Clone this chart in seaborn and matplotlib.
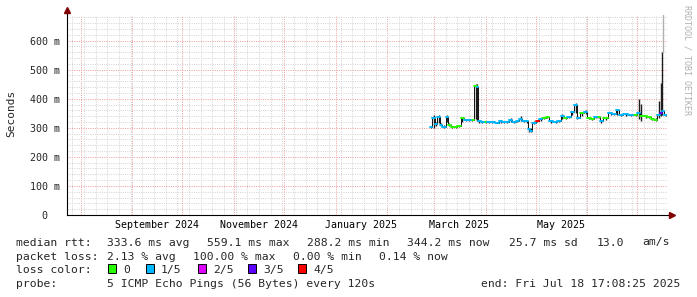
import numpy as np
import pandas as pd
import matplotlib
matplotlib.use("Agg")
import matplotlib.pyplot as plt
import matplotlib.dates as mdates
import matplotlib.transforms as mtransforms
from matplotlib.ticker import MultipleLocator, NullFormatter, FixedLocator
from matplotlib.patches import Rectangle
import seaborn as sns

# ---------------- data ----------------
dates = ["2025-02-27", "2025-03-01", "2025-03-02", "2025-03-04", "2025-03-05", "2025-03-07",
         "2025-03-09", "2025-03-10", "2025-03-12", "2025-03-14", "2025-03-16", "2025-03-18",
         "2025-03-20", "2025-03-22", "2025-03-24", "2025-03-26", "2025-03-27", "2025-03-28",
         "2025-03-30", "2025-04-01", "2025-04-03", "2025-04-05", "2025-04-08", "2025-04-10",
         "2025-04-12", "2025-04-14", "2025-04-16", "2025-04-18", "2025-04-20", "2025-04-22",
         "2025-04-24", "2025-04-26", "2025-04-27", "2025-04-28", "2025-04-30", "2025-05-02",
         "2025-05-04", "2025-05-06", "2025-05-08", "2025-05-10", "2025-05-13", "2025-05-15",
         "2025-05-17", "2025-05-19", "2025-05-21", "2025-05-23", "2025-05-25", "2025-05-26",
         "2025-05-29", "2025-05-31", "2025-06-02", "2025-06-04", "2025-06-06", "2025-06-08",
         "2025-06-09", "2025-06-12", "2025-06-15", "2025-06-17", "2025-06-19", "2025-06-21",
         "2025-06-24", "2025-06-27", "2025-06-30", "2025-07-02", "2025-07-03", "2025-07-06",
         "2025-07-08", "2025-07-10", "2025-07-12", "2025-07-14", "2025-07-15", "2025-07-16",
         "2025-07-18"]
median_ms = [301, 334, 314, 338, 310, 303,
             338, 310, 302, 302, 305, 334,
             327, 326, 327, 445, 440, 322,
             320, 321, 320, 319, 318, 322,
             320, 320, 326, 320, 323, 330,
             323, 322, 296, 290, 318, 323,
             330, 333, 336, 322, 320, 323,
             342, 333, 336, 353, 378, 335,
             350, 356, 333, 330, 338, 337,
             322, 333, 352, 348, 360, 345,
             346, 345, 343, 350, 340, 339,
             336, 330, 328, 345, 350, 358,
             344]
smoke_lo = [298, 300, 305, 315, 305, 300,
            320, 305, 300, 300, 302, 320,
            324, 323, 323, 330, 325, 318,
            317, 318, 317, 316, 315, 318,
            317, 317, 320, 317, 320, 322,
            320, 318, 287, 286, 312, 320,
            325, 329, 332, 318, 317, 320,
            330, 329, 332, 345, 350, 330,
            342, 348, 329, 326, 333, 333,
            318, 328, 345, 343, 345, 341,
            342, 341, 339, 330, 325, 334,
            332, 326, 324, 335, 340, 345,
            340]
smoke_hi = [306, 345, 320, 345, 315, 308,
            345, 315, 305, 305, 308, 338,
            330, 329, 330, 452, 450, 326,
            323, 324, 323, 322, 321, 326,
            323, 323, 333, 323, 326, 339,
            326, 326, 300, 300, 322, 326,
            334, 336, 340, 326, 323, 327,
            348, 337, 340, 358, 386, 340,
            355, 360, 337, 334, 342, 341,
            326, 337, 356, 352, 366, 349,
            350, 349, 347, 399, 382, 343,
            340, 334, 332, 391, 455, 559,
            348]
loss = [1, 1, 1, 1, 1, 1,
        1, 0, 0, 0, 0, 0,
        1, 1, 0, 0, 1, 1,
        1, 0, 1, 1, 1, 1,
        1, 1, 1, 1, 1, 1,
        1, 1, 1, 1, 1, 4,
        1, 0, 0, 1, 1, 1,
        1, 0, 1, 1, 1, 1,
        0, 1, 0, 0, 1, 0,
        1, 0, 1, 1, 1, 1,
        1, 1, 0, 1, 0, 0,
        0, 0, 0, 1, 3, 1,
        1]
loss_gap_date = "2025-07-16 12:00"
loss_gap_from = 559

loss_labels = ["0", "1/5", "2/5", "3/5", "4/5"]
loss_colors = ["#26ff00", "#00b8ff", "#dd00ff", "#5e00ff", "#ff0000"]

y_ticks = [0, 100, 200, 300, 400, 500, 600]
y_tick_labels = ["0", "100 m", "200 m", "300 m", "400 m", "500 m", "600 m"]
month_label_starts = ["2024-09-01", "2024-11-01", "2025-01-01", "2025-03-01", "2025-05-01"]
month_labels = ["September 2024", "November 2024", "January 2025", "March 2025", "May 2025"]

end_time = pd.Timestamp("2025-07-18 17:08:25")
start_time = end_time - pd.Timedelta(days=360)

stats_line1 = [("median rtt:", 16), ("333.6 ms avg", 107), ("559.1 ms max", 207),
               ("288.2 ms min", 307), ("344.2 ms now", 407), ("25.7 ms sd", 509),
               ("13.0", 597), ("am/s", 642)]
stats_line2 = [("packet loss:", 16), ("2.13 % avg", 107), ("100.00 % max", 193),
               ("0.00 % min", 293), ("0.14 % now", 379)]
probe_text = "5 ICMP Echo Pings (56 Bytes) every 120s"
end_text = "end: Fri Jul 18 17:08:25 2025"

# ---------------- style ----------------
sns.set_style("white")
plt.rcParams["font.family"] = ["DejaVu Sans Mono"]
FS = 8.2      # legend font
FS_AX = 7.2   # axis font
W, H = 697, 297

fig = plt.figure(figsize=(W / 100, H / 100), dpi=100)
fig.patch.set_facecolor("white")
ax = fig.add_axes([67 / W, (H - 215) / H, 600 / W, 200 / H])
ax.set_facecolor("white")

t = pd.to_datetime(dates)
df = pd.DataFrame({"t": t, "med": median_ms, "lo": smoke_lo, "hi": smoke_hi,
                   "loss": [loss_labels[i] for i in loss]})

# smoke
ax.vlines(df["t"], df["lo"], df["hi"], colors="#1c1c1c", lw=1.0, zorder=3)
ax.vlines([pd.Timestamp(loss_gap_date)], [loss_gap_from], [700], colors="#b0b0b0", lw=1.0, zorder=2)

# black connecting step line
sns.lineplot(data=df, x="t", y="med", estimator=None, color="#111111", lw=0.7,
             drawstyle="steps-mid", ax=ax, zorder=4)

# colored median segments per loss
tn = df["t"].values.astype("datetime64[s]").astype(np.int64)
rows = []
for i in range(len(df)):
    left = tn[i] - ((tn[i] - tn[i - 1]) / 2 if i > 0 else 43200)
    right = tn[i] + ((tn[i + 1] - tn[i]) / 2 if i < len(df) - 1 else 43200)
    for v in (left, right):
        rows.append({"seg": i, "t": pd.to_datetime(int(v), unit="s"),
                     "med": df["med"][i], "loss": df["loss"][i]})
seg = pd.DataFrame(rows)
sns.lineplot(data=seg, x="t", y="med", hue="loss", units="seg", estimator=None,
             palette=dict(zip(loss_labels, loss_colors)), hue_order=loss_labels,
             lw=1.4, legend=False, ax=ax, zorder=5)

# axes
ax.set_xlim(start_time, end_time)
ax.set_ylim(0, 688)
ax.set_xlabel("")
ax.set_ylabel("")
ax.xaxis.set_major_locator(mdates.MonthLocator())
ax.xaxis.set_minor_locator(mdates.WeekdayLocator(byweekday=mdates.SA))
ax.xaxis.set_major_formatter(NullFormatter())
ax.yaxis.set_major_locator(FixedLocator(y_ticks))
ax.set_yticklabels(y_tick_labels, fontsize=FS_AX)
ax.yaxis.set_minor_locator(MultipleLocator(20))

ax.grid(which="minor", color="#d4d4d4", ls=(0, (1, 1.3)), lw=0.72)
ax.grid(which="major", color="#ef9e9e", ls=(0, (1, 1.3)), lw=0.72)
ax.set_axisbelow(True)

for s in ["top", "right"]:
    ax.spines[s].set_visible(False)
for s in ["left", "bottom"]:
    ax.spines[s].set_color("black")
    ax.spines[s].set_linewidth(0.8)

ax.tick_params(axis="both", which="major", direction="out", length=2.2, width=0.7, color="black")
ax.tick_params(axis="both", which="minor", direction="out", length=1.4, width=0.6, color="black")
ax.tick_params(axis="y", which="major", pad=2.9)

lab0 = ax.get_yticklabels()[0]
lab0.set_transform(lab0.get_transform() + mtransforms.ScaledTranslation(-12.5 / 100, 0, fig.dpi_scale_trans))

# month labels centered 15 days after month start
btrans = mtransforms.blended_transform_factory(ax.transData, ax.transAxes)
for d, lab in zip(month_label_starts, month_labels):
    ax.text(pd.Timestamp(d) + pd.Timedelta(days=15), (215 - 227.5) / 200, lab,
            transform=btrans, ha="center", va="baseline", fontsize=FS_AX, color="black")

# axis extensions and arrows
ax.plot([0, 0], [1.0, 1.02], transform=ax.transAxes, color="black", lw=0.8, clip_on=False)
ax.plot([1.0, 1.006], [0, 0], transform=ax.transAxes, color="black", lw=0.8, clip_on=False)
ax.plot([0], [1.025], transform=ax.transAxes, marker="^", color="#800000", ms=4.5, clip_on=False)
ax.plot([1.008], [0], transform=ax.transAxes, marker=">", color="#800000", ms=4.5, clip_on=False)

# y label and watermark
fig.text(11 / W, 1 - 113 / H, "Seconds", rotation=90, ha="center", va="center", fontsize=8.0)
fig.text(687.5 / W, 1 - 60 / H, "RRDTOOL / TOBI OETIKER", rotation=270, ha="center",
         va="center", fontsize=6.0, color="#b0b0b0")

# legend text
def ftext(x, base, s, **kw):
    fig.text(x / W, 1 - base / H, s, ha=kw.pop("ha", "left"), va="baseline", fontsize=FS, **kw)

for s, x in stats_line1:
    ftext(x, 245.5, s)
for s, x in stats_line2:
    ftext(x, 259.5, s)
ftext(16, 273, "loss color:")
box_x = [108, 146, 198, 248, 298]
for bx, lab, col in zip(box_x, loss_labels, loss_colors):
    fig.patches.append(Rectangle((bx / W, 1 - 272.5 / H), 7.5 / W, 8.5 / H,
                                 transform=fig.transFigure, facecolor=col,
                                 edgecolor="black", lw=0.7))
    ftext(bx + 15, 273, lab)
ftext(16, 287, "probe:")
ftext(107, 287, probe_text)
ftext(680, 287, end_text, ha="right")

fig.savefig("out.png", dpi=100, facecolor="white")
